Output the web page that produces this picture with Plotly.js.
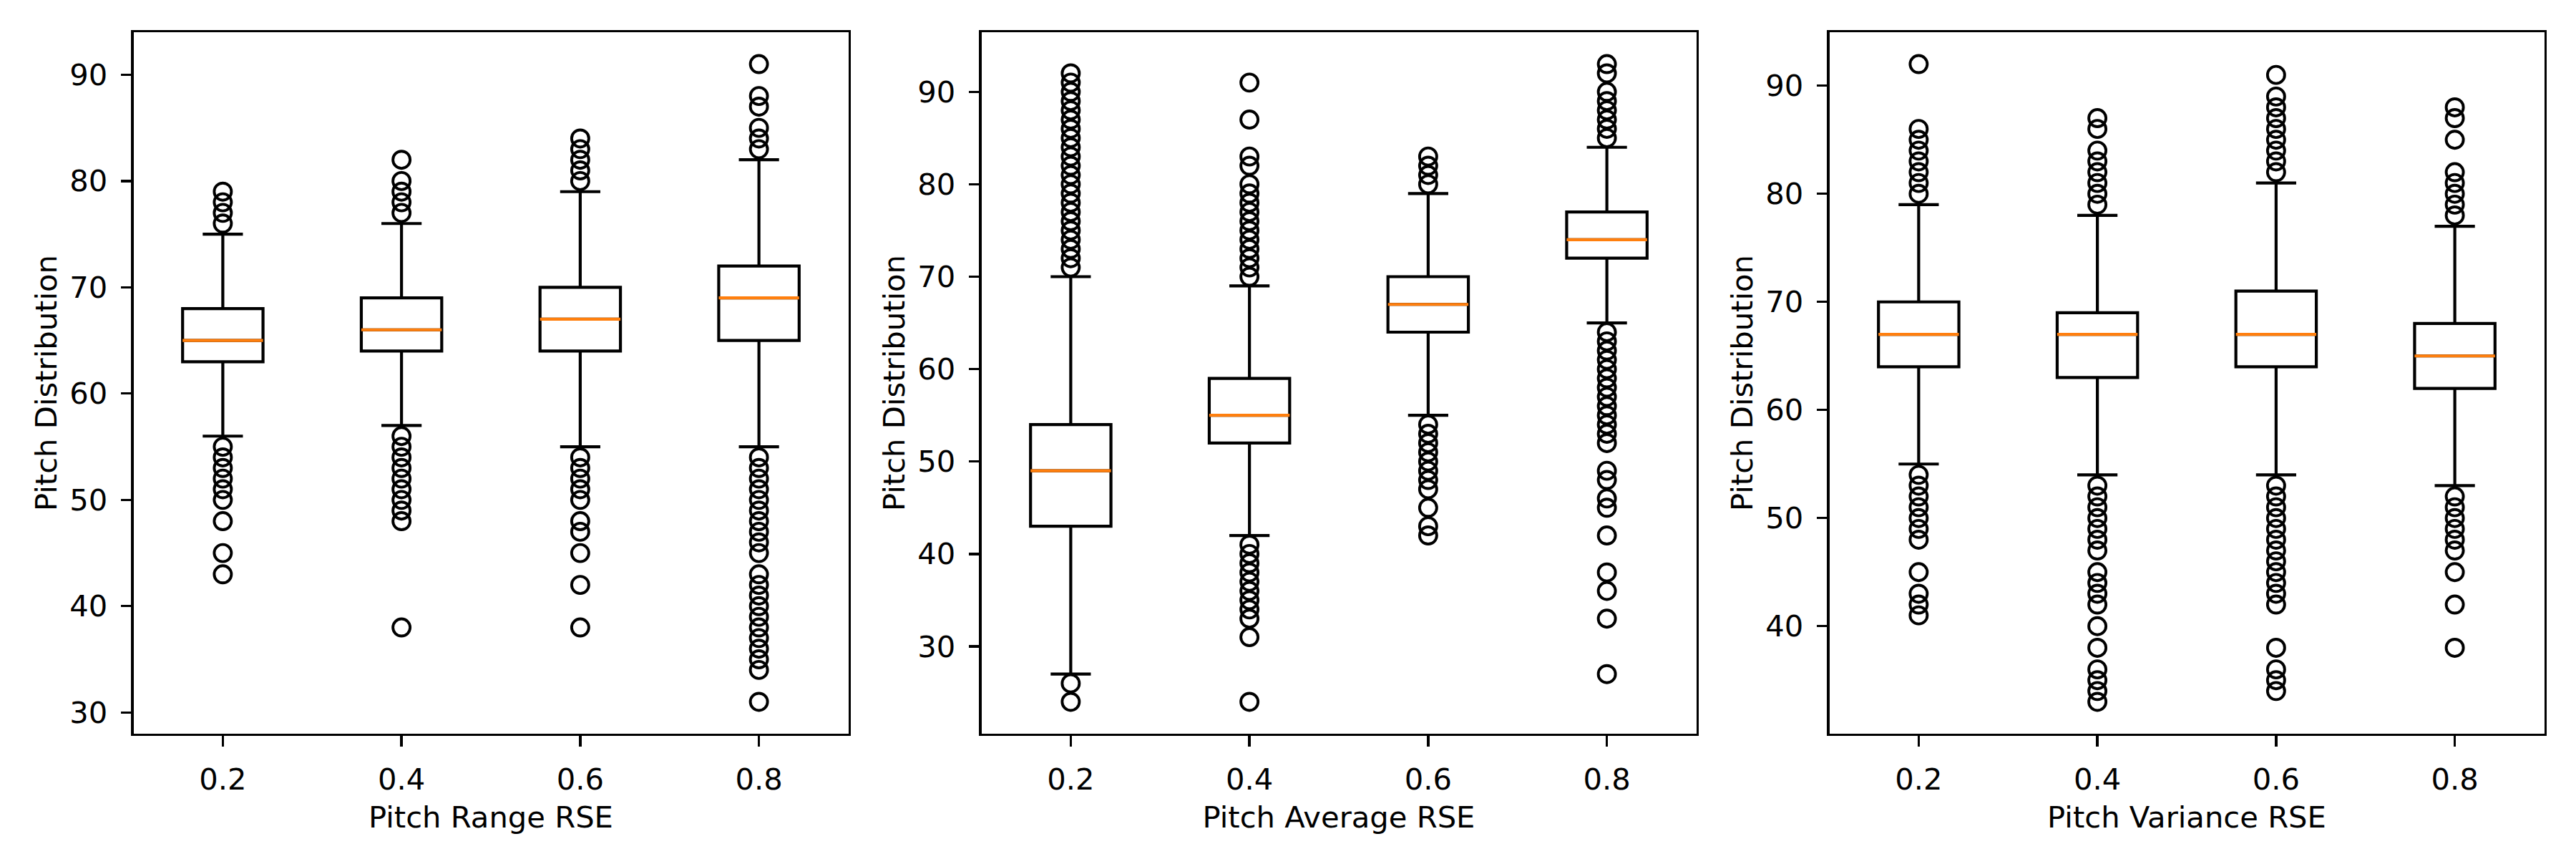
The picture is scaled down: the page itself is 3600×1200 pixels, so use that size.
<!DOCTYPE html>
<html>
<head>
<meta charset="utf-8">
<script src="https://cdn.plot.ly/plotly-3.0.1.min.js"></script>
<style>html,body{margin:0;padding:0;background:#fff;}#chart{width:3600px;height:1200px;}</style>
</head>
<body>
<div id="chart"></div>
<script>
// ---- data ----
const categories = ['0.2', '0.4', '0.6', '0.8'];
const positions = [1, 2, 3, 4];

// Panel 1: Pitch Range RSE
const rangeQ1 = [63, 64, 64, 65];
const rangeMedian = [65, 66, 67, 69];
const rangeQ3 = [68, 69, 70, 72];
const rangeLow = [56, 57, 55, 55];
const rangeHigh = [75, 76, 79, 82];
const rangeOut02 = [76, 77, 78, 79, 55, 54, 53, 52, 51, 50, 48, 45, 43];
const rangeOut04 = [77, 78, 79, 80, 82, 56, 55, 54, 53, 52, 51, 50, 49, 48, 38];
const rangeOut06 = [80, 81, 82, 83, 84, 54, 53, 52, 51, 50, 48, 47, 45, 42, 38];
const rangeOut08 = [83, 84, 85, 87, 88, 91, 54, 53, 52, 51, 50, 49, 48, 47, 46, 45, 43, 42, 41, 40, 39, 38, 37, 36, 35, 34, 31];

// Panel 2: Pitch Average RSE
const avgQ1 = [43, 52, 64, 72];
const avgMedian = [49, 55, 67, 74];
const avgQ3 = [54, 59, 70, 77];
const avgLow = [27, 42, 55, 65];
const avgHigh = [70, 69, 79, 84];
const avgOut02 = [92, 91, 90, 89, 88, 87, 86, 85, 84, 83, 82, 81, 80, 79, 78, 77, 76, 75, 74, 73, 72, 71, 26, 24];
const avgOut04 = [91, 87, 83, 82, 80, 79, 78, 77, 76, 75, 74, 73, 72, 71, 70, 41, 40, 39, 38, 37, 36, 35, 34, 33, 31, 24];
const avgOut06 = [83, 82, 81, 80, 54, 53, 52, 51, 50, 49, 48, 47, 45, 43, 42];
const avgOut08 = [93, 92, 90, 89, 88, 87, 86, 85, 64, 63, 62, 61, 60, 59, 58, 57, 56, 55, 54, 53, 52, 49, 48, 46, 45, 42, 38, 36, 33, 27];

// Panel 3: Pitch Variance RSE
const varQ1 = [64, 63, 64, 62];
const varMedian = [67, 67, 67, 65];
const varQ3 = [70, 69, 71, 68];
const varLow = [55, 54, 54, 53];
const varHigh = [79, 78, 81, 77];
const varOut02 = [92, 86, 85, 84, 83, 82, 81, 80, 54, 53, 52, 51, 50, 49, 48, 45, 43, 42, 41];
const varOut04 = [87, 86, 84, 83, 82, 81, 80, 79, 53, 52, 51, 50, 49, 48, 47, 45, 44, 43, 42, 40, 38, 36, 35, 34, 33];
const varOut06 = [91, 89, 88, 87, 86, 85, 84, 83, 82, 53, 52, 51, 50, 49, 48, 47, 46, 45, 44, 43, 42, 38, 36, 35, 34];
const varOut08 = [88, 87, 85, 82, 81, 80, 79, 78, 52, 51, 50, 49, 48, 47, 45, 42, 38];

const xTitles = ['Pitch Range RSE', 'Pitch Average RSE', 'Pitch Variance RSE'];
const yTitle = 'Pitch Distribution';

// ---- style ----
const FONT = 'DejaVu Sans';
const FS = 41.7;
const LW = 4.2;
const SPINE = 3.3;
const BOXW = 0.45;

const panels = [
  {q1: rangeQ1, med: rangeMedian, q3: rangeQ3, lo: rangeLow, hi: rangeHigh, out: [rangeOut02, rangeOut04, rangeOut06, rangeOut08]},
  {q1: avgQ1, med: avgMedian, q3: avgQ3, lo: avgLow, hi: avgHigh, out: [avgOut02, avgOut04, avgOut06, avgOut08]},
  {q1: varQ1, med: varMedian, q3: varQ3, lo: varLow, hi: varHigh, out: [varOut02, varOut04, varOut06, varOut08]}
];

const W = 3600, H = 1200;
const xDomains = [[186.5 / W, 1185.5 / W], [1371.5 / W, 2370.5 / W], [2556.5 / W, 3555.5 / W]];
const yDomain = [1 - 1025 / H, 1 - 45 / H];

const traces = [];
const layout = {
  width: W, height: H,
  margin: {l: 0, r: 0, t: 0, b: 0},
  paper_bgcolor: '#ffffff', plot_bgcolor: '#ffffff',
  showlegend: false,
  font: {family: FONT, size: FS, color: '#000000'}
};

panels.forEach((p, i) => {
  const n = i === 0 ? '' : String(i + 1);
  const xa = 'x' + n, ya = 'y' + n;
  traces.push({
    type: 'box', xaxis: xa, yaxis: ya,
    x: positions, q1: p.q1, median: p.med, q3: p.q3,
    lowerfence: p.lo, upperfence: p.hi,
    boxpoints: false, width: BOXW, whiskerwidth: 0.5,
    fillcolor: 'rgba(0,0,0,0)',
    line: {color: '#000000', width: LW},
    hoverinfo: 'skip'
  });
  const mx = [], my = [];
  positions.forEach((pos, k) => {
    mx.push(pos - BOXW / 2, pos + BOXW / 2, null);
    my.push(p.med[k], p.med[k], null);
  });
  traces.push({
    type: 'scatter', mode: 'lines', xaxis: xa, yaxis: ya,
    x: mx, y: my, line: {color: '#ff7f0e', width: LW}, hoverinfo: 'skip'
  });
  const ox = [], oy = [];
  p.out.forEach((arr, k) => arr.forEach(v => { ox.push(positions[k]); oy.push(v); }));
  traces.push({
    type: 'scatter', mode: 'markers', xaxis: xa, yaxis: ya,
    x: ox, y: oy,
    marker: {symbol: 'circle-open', size: 24, color: '#000000', line: {width: 3.9, color: '#000000'}},
    hoverinfo: 'skip'
  });
  // y range: data extent padded by 5% (matplotlib default margins)
  const all = [].concat(p.lo, p.hi, ...p.out);
  const mn = Math.min(...all), mxv = Math.max(...all);
  const pad = (mxv - mn) * 0.05;
  const common = {
    showline: true, mirror: true, linecolor: '#000000', linewidth: SPINE,
    ticks: 'outside', ticklen: 14.6, tickwidth: SPINE, tickcolor: '#000000',
    showgrid: false, zeroline: false, fixedrange: true,
    tickfont: {family: FONT, size: FS, color: '#000000'}
  };
  layout['xaxis' + n] = Object.assign({}, common, {
    domain: xDomains[i], anchor: ya, range: [0.5, 4.5],
    tickmode: 'array', tickvals: positions, ticktext: categories,
    ticklabelstandoff: 10,
    title: {text: xTitles[i], font: {family: FONT, size: FS, color: '#000000'}, standoff: 16}
  });
  layout['yaxis' + n] = Object.assign({}, common, {
    domain: yDomain, anchor: xa, range: [mn - pad, mxv + pad],
    tickmode: 'linear', tick0: 0, dtick: 10,
    ticklabelstandoff: 10,
    title: {text: yTitle, font: {family: FONT, size: FS, color: '#000000'}, standoff: 5}
  });
});

Plotly.newPlot('chart', traces, layout, {staticPlot: true, displayModeBar: false});
</script>
</body>
</html>
